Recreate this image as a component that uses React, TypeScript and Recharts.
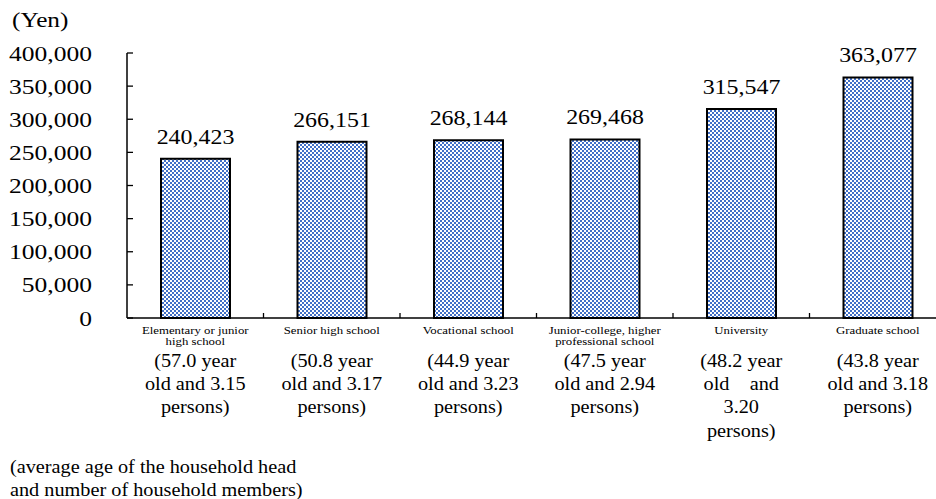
import React from 'react';
import { BarChart, Bar, XAxis, YAxis, LabelList } from 'recharts';

const categories = [
  'Elementary or junior high school',
  'Senior high school',
  'Vocational school',
  'Junior-college, higher professional school',
  'University',
  'Graduate school',
];
const categoryLines = [
  ['Elementary or junior', 'high school'],
  ['Senior high school'],
  ['Vocational school'],
  ['Junior-college, higher', 'professional school'],
  ['University'],
  ['Graduate school'],
];
const incomes = [240423, 266151, 268144, 269468, 315547, 363077];
const profileLines = [
  ['(57.0 year', 'old and 3.15', 'persons)'],
  ['(50.8 year', 'old and 3.17', 'persons)'],
  ['(44.9 year', 'old and 3.23', 'persons)'],
  ['(47.5 year', 'old and 2.94', 'persons)'],
  ['(48.2 year', 'old\u00a0\u00a0\u00a0\u00a0and', '3.20', 'persons)'],
  ['(43.8 year', 'old and 3.18', 'persons)'],
];
const yTicks = [0, 50000, 100000, 150000, 200000, 250000, 300000, 350000, 400000];
const unitLabel = '(Yen)';
const noteLines = ['(average age of the household head', 'and number of household members)'];

const data = categories.map((c, i) => ({ category: c, income: incomes[i] }));

const CHART_W = 960;
const CHART_H = 499;
const M_LEFT = 0;
const M_RIGHT = 14;
const Y_W = 127;
const PLOT_W = CHART_W - M_LEFT - M_RIGHT - Y_W;
const BAND = PLOT_W / categories.length;
const FONT = "'Liberation Serif', 'Times New Roman', serif";

const fmt = (v: number) => v.toLocaleString('en-US');

function SText({ x, y, anchor = 'middle', size, sx = 1, children }: any) {
  return (
    <text
      transform={`translate(${x},${y}) scale(${sx},1)`}
      textAnchor={anchor}
      fontSize={size}
      fontFamily={FONT}
      fill="#000"
    >
      {children}
    </text>
  );
}

function YTick(props: any) {
  const { x, y, payload } = props;
  return (
    <g>
      <line x1={x} x2={x + 6} y1={y} y2={y} stroke="#000" strokeWidth={1.3} />
      <SText x={x - 35} y={y + 7.5} anchor="end" size={22} sx={1.16}>
        {fmt(payload.value)}
      </SText>
    </g>
  );
}

function XTick(props: any) {
  const { x, y, payload } = props;
  const i = categories.indexOf(payload.value);
  const cl = categoryLines[i] || [];
  const pl = profileLines[i] || [];
  return (
    <g>
      <line x1={x + BAND / 2} x2={x + BAND / 2} y1={y} y2={y - 5} stroke="#000" strokeWidth={1.3} />
      {cl.map((t, k) => (
        <SText key={'c' + k} x={x} y={y + 15.5 + k * 11.5} size={10.5} sx={1.22}>
          {t}
        </SText>
      ))}
      {pl.map((t, k) => (
        <SText key={'p' + k} x={x} y={y + 49 + k * 23.2} size={19.5} sx={1.04}>
          {t}
        </SText>
      ))}
    </g>
  );
}

function ValueLabel(props: any) {
  const { x, y, width, value } = props;
  return (
    <SText x={x + width / 2} y={y - 15} size={21} sx={1.14}>
      {fmt(value)}
    </SText>
  );
}

export default function App() {
  return (
    <div
      style={{
        position: 'absolute',
        left: 0,
        top: 0,
        width: 936,
        height: 499,
        overflow: 'hidden',
        background: '#fff',
      }}
    >
      <svg width={0} height={0} style={{ position: 'absolute' }}>
        <defs>
          <pattern id="checker" width={4} height={4} patternUnits="userSpaceOnUse">
            <rect width={4} height={4} fill="#ffffff" />
            <rect x={0} y={0} width={2} height={2} fill="#4170c8" />
            <rect x={2} y={2} width={2} height={2} fill="#4170c8" />
          </pattern>
        </defs>
      </svg>
      <BarChart
        width={CHART_W}
        height={CHART_H}
        data={data}
        margin={{ top: 53, right: M_RIGHT, bottom: 0, left: M_LEFT }}
      >
        <XAxis
          dataKey="category"
          height={181}
          interval={0}
          tickLine={false}
          tickSize={0}
          tickMargin={0}
          axisLine={{ stroke: '#000', strokeWidth: 1.5 }}
          tick={<XTick />}
        />
        <YAxis
          width={Y_W}
          domain={[0, 400000]}
          ticks={yTicks}
          interval={0}
          tickLine={false}
          tickSize={0}
          tickMargin={0}
          axisLine={{ stroke: '#000', strokeWidth: 1.5 }}
          tick={<YTick />}
        />
        <Bar
          dataKey="income"
          barSize={69}
          fill="url(#checker)"
          stroke="#000"
          strokeWidth={2}
          isAnimationActive={false}
        >
          <LabelList dataKey="income" content={<ValueLabel />} />
        </Bar>
      </BarChart>
      <svg
        width={936}
        height={499}
        style={{ position: 'absolute', left: 0, top: 0, pointerEvents: 'none' }}
      >
        <SText x={12} y={27} anchor="start" size={22} sx={1.15}>
          {unitLabel}
        </SText>
        {noteLines.map((t, k) => (
          <SText key={k} x={10} y={473 + k * 23} anchor="start" size={19.5} sx={1.04}>
            {t}
          </SText>
        ))}
      </svg>
    </div>
  );
}
